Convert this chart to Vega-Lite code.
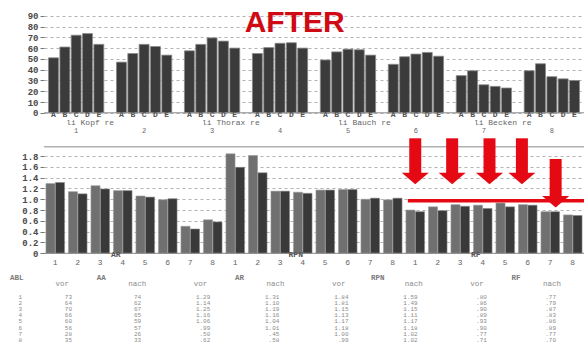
{
  "$schema": "https://vega.github.io/schema/vega-lite/v6.json",
  "padding": {"left": 10, "top": 5, "right": 0, "bottom": 0},
  "background": "white",
  "bounds": "flush",
  "spacing": 24,
  "config": {
    "view": {"stroke": null},
    "font": "Liberation Mono",
    "axis": {"labelFont": "Liberation Mono", "labelFontSize": 9, "labelFontWeight": "bold", "labelColor": "#4a4a4a", "labelOverlap": false, "labelBound": false, "labelFlush": false, "domain": false, "tickSize": 4, "tickColor": "#777777", "labelPadding": 2, "gridDash": [3, 3], "gridColor": "#a0a0a0", "gridWidth": 0.8},
    "axisY": {"labelOverlap": false},
    "axisQuantitative": {"labelOverlap": false}
  },
  "datasets": {
    "body": [
      {"g": 1, "k": "A", "gk": "1A", "v": 51}, {"g": 1, "k": "B", "gk": "1B", "v": 61}, {"g": 1, "k": "C", "gk": "1C", "v": 72}, {"g": 1, "k": "D", "gk": "1D", "v": 73.5}, {"g": 1, "k": "E", "gk": "1E", "v": 63.5},
      {"g": 2, "k": "A", "gk": "2A", "v": 47}, {"g": 2, "k": "B", "gk": "2B", "v": 55}, {"g": 2, "k": "C", "gk": "2C", "v": 63.5}, {"g": 2, "k": "D", "gk": "2D", "v": 61.5}, {"g": 2, "k": "E", "gk": "2E", "v": 53.5},
      {"g": 3, "k": "A", "gk": "3A", "v": 57.5}, {"g": 3, "k": "B", "gk": "3B", "v": 63.5}, {"g": 3, "k": "C", "gk": "3C", "v": 69.5}, {"g": 3, "k": "D", "gk": "3D", "v": 66.5}, {"g": 3, "k": "E", "gk": "3E", "v": 60},
      {"g": 4, "k": "A", "gk": "4A", "v": 55}, {"g": 4, "k": "B", "gk": "4B", "v": 60.5}, {"g": 4, "k": "C", "gk": "4C", "v": 64.5}, {"g": 4, "k": "D", "gk": "4D", "v": 65}, {"g": 4, "k": "E", "gk": "4E", "v": 60},
      {"g": 5, "k": "A", "gk": "5A", "v": 49}, {"g": 5, "k": "B", "gk": "5B", "v": 56.5}, {"g": 5, "k": "C", "gk": "5C", "v": 59}, {"g": 5, "k": "D", "gk": "5D", "v": 58.5}, {"g": 5, "k": "E", "gk": "5E", "v": 53.5},
      {"g": 6, "k": "A", "gk": "6A", "v": 45}, {"g": 6, "k": "B", "gk": "6B", "v": 52}, {"g": 6, "k": "C", "gk": "6C", "v": 54.5}, {"g": 6, "k": "D", "gk": "6D", "v": 56}, {"g": 6, "k": "E", "gk": "6E", "v": 52.5},
      {"g": 7, "k": "A", "gk": "7A", "v": 34.5}, {"g": 7, "k": "B", "gk": "7B", "v": 39}, {"g": 7, "k": "C", "gk": "7C", "v": 26}, {"g": 7, "k": "D", "gk": "7D", "v": 24.5}, {"g": 7, "k": "E", "gk": "7E", "v": 23},
      {"g": 8, "k": "A", "gk": "8A", "v": 39}, {"g": 8, "k": "B", "gk": "8B", "v": 45.5}, {"g": 8, "k": "C", "gk": "8C", "v": 33.5}, {"g": 8, "k": "D", "gk": "8D", "v": 31.5}, {"g": 8, "k": "E", "gk": "8E", "v": 30}
    ],
    "regions": [
      {"gk": "1C", "v": 0, "label": "li Kopf  re"},
      {"gk": "3C", "v": 0, "label": "li   Thorax  re"},
      {"gk": "5C", "v": 0, "label": "li  Bauch  re"},
      {"gk": "7C", "v": 0, "label": "li Becken  re"}
    ],
    "ratio": [
      {"grp": "AR", "abl": 1, "pair": "AR1", "when": "vor", "v": 1.29}, {"grp": "AR", "abl": 1, "pair": "AR1", "when": "nach", "v": 1.31},
      {"grp": "AR", "abl": 2, "pair": "AR2", "when": "vor", "v": 1.14}, {"grp": "AR", "abl": 2, "pair": "AR2", "when": "nach", "v": 1.10},
      {"grp": "AR", "abl": 3, "pair": "AR3", "when": "vor", "v": 1.25}, {"grp": "AR", "abl": 3, "pair": "AR3", "when": "nach", "v": 1.19},
      {"grp": "AR", "abl": 4, "pair": "AR4", "when": "vor", "v": 1.16}, {"grp": "AR", "abl": 4, "pair": "AR4", "when": "nach", "v": 1.16},
      {"grp": "AR", "abl": 5, "pair": "AR5", "when": "vor", "v": 1.06}, {"grp": "AR", "abl": 5, "pair": "AR5", "when": "nach", "v": 1.04},
      {"grp": "AR", "abl": 6, "pair": "AR6", "when": "vor", "v": 0.99}, {"grp": "AR", "abl": 6, "pair": "AR6", "when": "nach", "v": 1.01},
      {"grp": "AR", "abl": 7, "pair": "AR7", "when": "vor", "v": 0.50}, {"grp": "AR", "abl": 7, "pair": "AR7", "when": "nach", "v": 0.45},
      {"grp": "AR", "abl": 8, "pair": "AR8", "when": "vor", "v": 0.62}, {"grp": "AR", "abl": 8, "pair": "AR8", "when": "nach", "v": 0.58},
      {"grp": "RPN", "abl": 1, "pair": "RPN1", "when": "vor", "v": 1.84}, {"grp": "RPN", "abl": 1, "pair": "RPN1", "when": "nach", "v": 1.59},
      {"grp": "RPN", "abl": 2, "pair": "RPN2", "when": "vor", "v": 1.81}, {"grp": "RPN", "abl": 2, "pair": "RPN2", "when": "nach", "v": 1.49},
      {"grp": "RPN", "abl": 3, "pair": "RPN3", "when": "vor", "v": 1.15}, {"grp": "RPN", "abl": 3, "pair": "RPN3", "when": "nach", "v": 1.15},
      {"grp": "RPN", "abl": 4, "pair": "RPN4", "when": "vor", "v": 1.13}, {"grp": "RPN", "abl": 4, "pair": "RPN4", "when": "nach", "v": 1.11},
      {"grp": "RPN", "abl": 5, "pair": "RPN5", "when": "vor", "v": 1.17}, {"grp": "RPN", "abl": 5, "pair": "RPN5", "when": "nach", "v": 1.17},
      {"grp": "RPN", "abl": 6, "pair": "RPN6", "when": "vor", "v": 1.18}, {"grp": "RPN", "abl": 6, "pair": "RPN6", "when": "nach", "v": 1.18},
      {"grp": "RPN", "abl": 7, "pair": "RPN7", "when": "vor", "v": 1.00}, {"grp": "RPN", "abl": 7, "pair": "RPN7", "when": "nach", "v": 1.02},
      {"grp": "RPN", "abl": 8, "pair": "RPN8", "when": "vor", "v": 0.99}, {"grp": "RPN", "abl": 8, "pair": "RPN8", "when": "nach", "v": 1.02},
      {"grp": "RF", "abl": 1, "pair": "RF1", "when": "vor", "v": 0.80}, {"grp": "RF", "abl": 1, "pair": "RF1", "when": "nach", "v": 0.77},
      {"grp": "RF", "abl": 2, "pair": "RF2", "when": "vor", "v": 0.86}, {"grp": "RF", "abl": 2, "pair": "RF2", "when": "nach", "v": 0.79},
      {"grp": "RF", "abl": 3, "pair": "RF3", "when": "vor", "v": 0.90}, {"grp": "RF", "abl": 3, "pair": "RF3", "when": "nach", "v": 0.87},
      {"grp": "RF", "abl": 4, "pair": "RF4", "when": "vor", "v": 0.89}, {"grp": "RF", "abl": 4, "pair": "RF4", "when": "nach", "v": 0.83},
      {"grp": "RF", "abl": 5, "pair": "RF5", "when": "vor", "v": 0.93}, {"grp": "RF", "abl": 5, "pair": "RF5", "when": "nach", "v": 0.86},
      {"grp": "RF", "abl": 6, "pair": "RF6", "when": "vor", "v": 0.90}, {"grp": "RF", "abl": 6, "pair": "RF6", "when": "nach", "v": 0.89},
      {"grp": "RF", "abl": 7, "pair": "RF7", "when": "vor", "v": 0.77}, {"grp": "RF", "abl": 7, "pair": "RF7", "when": "nach", "v": 0.77},
      {"grp": "RF", "abl": 8, "pair": "RF8", "when": "vor", "v": 0.71}, {"grp": "RF", "abl": 8, "pair": "RF8", "when": "nach", "v": 0.70}
    ],
    "arrows": [
      {"x": 16.5, "v": 2.128, "neck": 1.47},
      {"x": 18.14, "v": 2.128, "neck": 1.47},
      {"x": 19.8, "v": 2.128, "neck": 1.47},
      {"x": 21.24, "v": 2.128, "neck": 1.47},
      {"x": 22.74, "v": 1.745, "neck": 1.04}
    ],
    "arrowheads": [
      {"x": 16.5, "v": 1.384},
      {"x": 18.14, "v": 1.384},
      {"x": 19.8, "v": 1.384},
      {"x": 21.24, "v": 1.384},
      {"x": 22.74, "v": 0.955}
    ],
    "table": [
      {"r": "1", "AA vor": "73", "AA nach": "74", "AR vor": "1.29", "AR nach": "1.31", "RPN vor": "1.84", "RPN nach": "1.59", "RF vor": ".80", "RF nach": ".77"},
      {"r": "2", "AA vor": "64", "AA nach": "62", "AR vor": "1.14", "AR nach": "1.10", "RPN vor": "1.81", "RPN nach": "1.49", "RF vor": ".86", "RF nach": ".79"},
      {"r": "3", "AA vor": "70", "AA nach": "67", "AR vor": "1.25", "AR nach": "1.19", "RPN vor": "1.15", "RPN nach": "1.15", "RF vor": ".90", "RF nach": ".87"},
      {"r": "4", "AA vor": "66", "AA nach": "65", "AR vor": "1.16", "AR nach": "1.16", "RPN vor": "1.13", "RPN nach": "1.11", "RF vor": ".89", "RF nach": ".83"},
      {"r": "5", "AA vor": "60", "AA nach": "59", "AR vor": "1.06", "AR nach": "1.04", "RPN vor": "1.17", "RPN nach": "1.17", "RF vor": ".93", "RF nach": ".86"},
      {"r": "6", "AA vor": "56", "AA nach": "57", "AR vor": ".99", "AR nach": "1.01", "RPN vor": "1.18", "RPN nach": "1.18", "RF vor": ".90", "RF nach": ".89"},
      {"r": "7", "AA vor": "28", "AA nach": "26", "AR vor": ".50", "AR nach": ".45", "RPN vor": "1.00", "RPN nach": "1.02", "RF vor": ".77", "RF nach": ".77"},
      {"r": "8", "AA vor": "35", "AA nach": "33", "AR vor": ".62", "AR nach": ".58", "RPN vor": ".99", "RPN nach": "1.02", "RF vor": ".71", "RF nach": ".70"}
    ],
    "heads": [
      {"col": "AA vor", "t": "vor"}, {"col": "AA nach", "t": "nach"},
      {"col": "AR vor", "t": "vor"}, {"col": "AR nach", "t": "nach"},
      {"col": "RPN vor", "t": "vor"}, {"col": "RPN nach", "t": "nach"},
      {"col": "RF vor", "t": "vor"}, {"col": "RF nach", "t": "nach"}
    ],
    "groups": [
      {"col": "AA nach", "t": "AA"}, {"col": "AR nach", "t": "AR"},
      {"col": "RPN nach", "t": "RPN"}, {"col": "RF nach", "t": "RF"}
    ]
  },
  "vconcat": [
    {
      "width": 540,
      "height": 107.8,
      "data": {"name": "body"},
      "encoding": {
        "y": {"field": "v", "type": "quantitative", "scale": {"domain": [0, 100], "nice": false}, "axis": {"values": [0, 10, 20, 30, 40, 50, 60, 70, 80, 90], "labelOverlap": false, "grid": true, "title": null}}
      },
      "layer": [
        {
          "mark": {"type": "bar", "fill": "#3b3b3b", "stroke": "#8a8a8a", "strokeWidth": 0.8},
          "encoding": {
            "x": {"field": "gk", "type": "nominal", "scale": {"domain": ["1A", "1B", "1C", "1D", "1E", "1_", "2A", "2B", "2C", "2D", "2E", "2_", "3A", "3B", "3C", "3D", "3E", "3_", "4A", "4B", "4C", "4D", "4E", "4_", "5A", "5B", "5C", "5D", "5E", "5_", "6A", "6B", "6C", "6D", "6E", "6_", "7A", "7B", "7C", "7D", "7E", "7_", "8A", "8B", "8C", "8D", "8E"], "paddingInner": 0.12, "paddingOuter": 0.4}, "axis": null}
          }
        },
        {
          "data": {"values": [{"v": 0}]},
          "mark": {"type": "rule", "color": "#8a8a8a", "strokeWidth": 1},
          "encoding": {}
        },
        {
          "mark": {"type": "text", "baseline": "middle", "dy": 2.5, "fontSize": 8, "fontWeight": "bold", "color": "#555555", "font": "Liberation Mono"},
          "encoding": {
            "x": {"field": "gk", "type": "nominal"},
            "y": {"datum": 0},
            "text": {"field": "k"}
          }
        },
        {
          "transform": [{"filter": "datum.k == 'C'"}],
          "mark": {"type": "text", "baseline": "middle", "dy": 18, "fontSize": 7, "color": "#666666", "font": "Liberation Mono"},
          "encoding": {
            "x": {"field": "gk", "type": "nominal"},
            "y": {"datum": 0},
            "text": {"field": "g"}
          }
        },
        {
          "data": {"name": "regions"},
          "mark": {"type": "text", "align": "left", "baseline": "middle", "dx": -10, "dy": 10.5, "fontSize": 8, "color": "#666666", "font": "Liberation Mono"},
          "encoding": {
            "x": {"field": "gk", "type": "nominal"},
            "text": {"field": "label"}
          }
        },
        {
          "data": {"values": [{"t": "AFTER", "gk": "4E", "v": 75.1}]},
          "mark": {"type": "text", "align": "center", "baseline": "alphabetic", "dx": -8, "fontSize": 30, "fontWeight": "bold", "font": "Liberation Sans", "color": "#cf0a14"},
          "encoding": {
            "x": {"field": "gk", "type": "nominal"},
            "text": {"field": "t"}
          }
        }
      ]
    },
    {
      "width": 540,
      "height": 116.3,
      "encoding": {
        "y": {"field": "v", "type": "quantitative", "scale": {"domain": [0, 2.152], "nice": false}, "axis": {"values": [0, 0.2, 0.4, 0.6, 0.8, 1.0, 1.2, 1.4, 1.6, 1.8], "labelOverlap": false, "labelExpr": "datum.value == 0 ? '0' : format(datum.value, '.1f')", "grid": true, "title": null}}
      },
      "layer": [
        {
          "data": {"name": "ratio"},
          "layer": [
            {
              "transform": [{"filter": "datum.when == 'vor'"}],
              "mark": {"type": "bar", "width": {"band": 0.48}, "xOffset": -4.75, "fill": "#707070", "stroke": "#9a9a9a", "strokeWidth": 0.6},
              "encoding": {
                "x": {"field": "pair", "type": "nominal", "scale": {"domain": ["AR1", "AR2", "AR3", "AR4", "AR5", "AR6", "AR7", "AR8", "RPN1", "RPN2", "RPN3", "RPN4", "RPN5", "RPN6", "RPN7", "RPN8", "RF1", "RF2", "RF3", "RF4", "RF5", "RF6", "RF7", "RF8"], "paddingInner": 0.16, "paddingOuter": 0.08}, "axis": null}
              }
            },
            {
              "transform": [{"filter": "datum.when == 'nach'"}],
              "mark": {"type": "bar", "width": {"band": 0.48}, "xOffset": 4.75, "fill": "#393939", "stroke": "#8a8a8a", "strokeWidth": 0.6},
              "encoding": {
                "x": {"field": "pair", "type": "nominal"}
              }
            },
            {
              "data": {"values": [{"v": 0}, {"v": 1.97}]},
              "mark": {"type": "rule", "color": "#8a8a8a", "strokeWidth": 1},
              "encoding": {}
            },
            {
              "transform": [{"filter": "datum.when == 'vor'"}],
              "mark": {"type": "text", "baseline": "middle", "dy": 10, "fontSize": 8, "color": "#666666", "font": "Liberation Mono"},
              "encoding": {
                "x": {"field": "pair", "type": "nominal"},
                "y": {"datum": 0},
                "text": {"field": "abl"}
              }
            },
            {
              "transform": [{"filter": "datum.when == 'vor' && datum.abl == 4"}],
              "mark": {"type": "text", "baseline": "middle", "dx": -7, "dy": 1.5, "fontSize": 8, "fontWeight": "bold", "color": "#555555", "font": "Liberation Mono"},
              "encoding": {
                "x": {"field": "pair", "type": "nominal"},
                "y": {"datum": 0},
                "text": {"field": "grp"}
              }
            }
          ]
        },
        {
          "layer": [
            {
              "data": {"name": "arrows"},
              "mark": {"type": "rule", "color": "#e50914", "strokeWidth": 12, "strokeCap": "butt"},
              "encoding": {
                "x": {"field": "x", "type": "quantitative", "scale": {"domain": [0, 24], "nice": false, "zero": false}, "axis": null},
                "y2": {"field": "neck"}
              }
            },
            {
              "data": {"name": "arrowheads"},
              "mark": {"type": "point", "shape": "M-1,-0.43L1,-0.43L0,0.43Z", "size": 729, "filled": true, "color": "#e50914", "opacity": 1},
              "encoding": {
                "x": {"field": "x", "type": "quantitative"}
              }
            },
            {
              "data": {"values": [{"x0": 16.17, "x1": 24, "v": 0.973}]},
              "mark": {"type": "rule", "color": "#e50914", "strokeWidth": 3.5},
              "encoding": {
                "x": {"field": "x0", "type": "quantitative"},
                "x2": {"field": "x1"}
              }
            }
          ]
        }
      ],
      "resolve": {"scale": {"x": "independent"}}
    },
    {
      "width": 540,
      "height": 62,
      "layer": [
        {
          "data": {"name": "table"},
          "transform": [{"fold": ["AA vor", "AA nach", "AR vor", "AR nach", "RPN vor", "RPN nach", "RF vor", "RF nach"], "as": ["col", "txt"]}],
          "mark": {"type": "text", "align": "right", "baseline": "middle", "fontSize": 6, "color": "#8c8c8c", "font": "Liberation Mono"},
          "encoding": {
            "x": {"field": "col", "type": "nominal", "scale": {"type": "point", "domain": ["AA vor", "AA nach", "AR vor", "AR nach", "RPN vor", "RPN nach", "RF vor", "RF nach"], "padding": 0.405}, "axis": null},
            "y": {"field": "r", "type": "ordinal", "scale": {"type": "point", "domain": ["h1", "h2", "g", "1", "2", "3", "4", "5", "6", "7", "8"], "padding": 0}, "axis": null},
            "text": {"field": "txt"}
          }
        },
        {
          "data": {"name": "table"},
          "mark": {"type": "text", "align": "right", "baseline": "middle", "dx": -50, "fontSize": 6, "color": "#8c8c8c", "font": "Liberation Mono"},
          "encoding": {
            "x": {"datum": "AA vor"},
            "y": {"field": "r", "type": "ordinal"},
            "text": {"field": "r"}
          }
        },
        {
          "data": {"name": "heads"},
          "transform": [{"filter": "datum.t == 'vor'"}],
          "mark": {"type": "text", "align": "right", "baseline": "middle", "dx": -3, "fontSize": 7.5, "color": "#8c8c8c", "font": "Liberation Mono"},
          "encoding": {
            "x": {"field": "col", "type": "nominal"},
            "y": {"datum": "h2"},
            "text": {"field": "t"}
          }
        },
        {
          "data": {"name": "heads"},
          "transform": [{"filter": "datum.t == 'nach'"}],
          "mark": {"type": "text", "align": "right", "baseline": "middle", "dx": 5, "fontSize": 7.5, "color": "#8c8c8c", "font": "Liberation Mono"},
          "encoding": {
            "x": {"field": "col", "type": "nominal"},
            "y": {"datum": "h2"},
            "text": {"field": "t"}
          }
        },
        {
          "data": {"name": "groups"},
          "mark": {"type": "text", "align": "center", "baseline": "middle", "dx": -40, "fontSize": 7.5, "fontWeight": "bold", "color": "#7a7a7a", "font": "Liberation Mono"},
          "encoding": {
            "x": {"field": "col", "type": "nominal"},
            "y": {"datum": "h1"},
            "text": {"field": "t"}
          }
        },
        {
          "data": {"values": [{"t": "ABL", "col": "AA vor"}]},
          "mark": {"type": "text", "align": "left", "baseline": "middle", "dx": -62, "fontSize": 7.5, "fontWeight": "bold", "color": "#7a7a7a", "font": "Liberation Mono"},
          "encoding": {
            "x": {"field": "col", "type": "nominal"},
            "y": {"datum": "h1"},
            "text": {"field": "t"}
          }
        }
      ]
    }
  ]
}
